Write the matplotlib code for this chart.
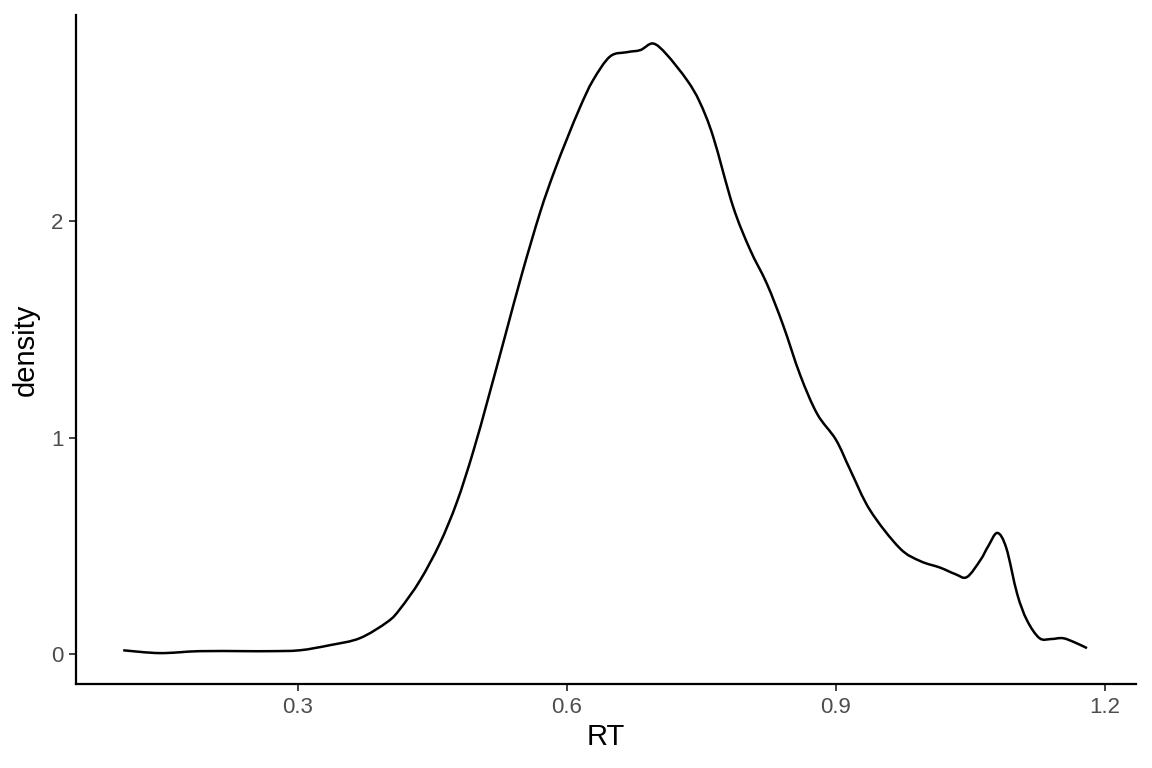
import numpy as np
import matplotlib.pyplot as plt
from matplotlib.path import Path
from matplotlib.patches import PathPatch

# density curve of RT
rt = [0.105, 0.146, 0.19, 0.24, 0.269, 0.302, 0.336, 0.369, 0.40, 0.414,
      0.436, 0.458, 0.477, 0.495, 0.512, 0.531, 0.55, 0.570, 0.585, 0.60,
      0.615, 0.629, 0.648, 0.667, 0.682, 0.696, 0.711, 0.734, 0.748, 0.763,
      0.785, 0.804, 0.823, 0.841, 0.860, 0.879, 0.90, 0.916, 0.938, 0.971,
      0.994, 1.016, 1.033, 1.046, 1.061, 1.070, 1.080, 1.090, 1.102, 1.113,
      1.127, 1.140, 1.153, 1.166, 1.180]
density = [0.018, 0.005, 0.014, 0.014, 0.014, 0.018, 0.042, 0.074, 0.15, 0.21,
           0.34, 0.51, 0.70, 0.93, 1.18, 1.47, 1.76, 2.04, 2.22, 2.38,
           2.53, 2.65, 2.76, 2.78, 2.79, 2.82, 2.77, 2.65, 2.55, 2.39,
           2.07, 1.87, 1.71, 1.52, 1.29, 1.11, 0.99, 0.85, 0.665, 0.49,
           0.43, 0.40, 0.37, 0.356, 0.434, 0.50, 0.56, 0.49, 0.28, 0.157,
           0.074, 0.07, 0.074, 0.055, 0.028]

x_ticks = [0.3, 0.6, 0.9, 1.2]
y_ticks = [0, 1, 2]


def smooth_path(xs, ys):
    # bezier path through the points (catmull-rom tangents)
    p = np.column_stack([xs, ys])
    verts = [p[0]]
    codes = [Path.MOVETO]
    for i in range(len(p) - 1):
        p0 = p[i - 1] if i > 0 else p[i]
        p3 = p[i + 2] if i + 2 < len(p) else p[i + 1]
        c1 = p[i] + (p[i + 1] - p0) / 6.0
        c2 = p[i + 1] - (p3 - p[i]) / 6.0
        verts += [c1, c2, p[i + 1]]
        codes += [Path.CURVE4] * 3
    return Path(verts, codes)


plt.rcParams["font.family"] = ["Liberation Sans", "DejaVu Sans"]

fig = plt.figure(figsize=(11.52, 7.68), dpi=100)
ax = fig.add_axes([0.066, 0.109, 0.92, 0.871])

ax.add_patch(PathPatch(smooth_path(rt, density), facecolor="none",
                       edgecolor="black", lw=1.8, capstyle="butt"))

ax.set_xlim(0.0524, 1.2345)
ax.set_ylim(-0.139, 2.95)
ax.set_xticks(x_ticks)
ax.set_xticklabels([f"{v:.1f}" for v in x_ticks])
ax.set_yticks(y_ticks)

for side in ["top", "right"]:
    ax.spines[side].set_visible(False)
for side in ["left", "bottom"]:
    ax.spines[side].set_linewidth(1.6)
    ax.spines[side].set_color("black")

ax.tick_params(axis="both", length=5, width=1.3, color="#333333",
               labelcolor="#4D4D4D", labelsize=16, pad=4)

ax.set_xlabel("RT", fontsize=21, labelpad=4)
ax.set_ylabel("density", fontsize=21, labelpad=8)

fig.savefig("out.png", dpi=100)
